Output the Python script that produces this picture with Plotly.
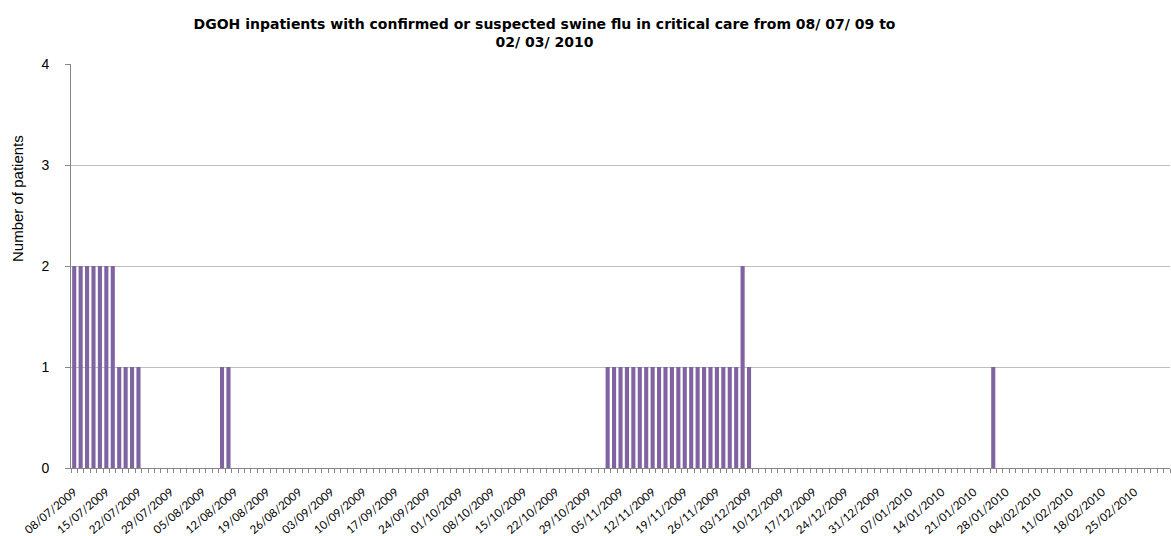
import pandas as pd
import plotly.graph_objects as go

# Categories: working days from 08/07/2009 (31/08/2009 bank holiday absent)
start_date = "2009-07-08"
missing_days = ["2009-08-31"]
n_days = 171
days = [d for d in pd.bdate_range(start_date, periods=n_days + 5) if d.strftime("%Y-%m-%d") not in missing_days][:n_days]
categories = [d.strftime("%d/%m/%Y") for d in days]

# Number of patients per day
patients = [
    2, 2, 2, 2, 2, 2, 2, 1, 1, 1,
    1, 0, 0, 0, 0, 0, 0, 0, 0, 0,
    0, 0, 0, 1, 1, 0, 0, 0, 0, 0,
    0, 0, 0, 0, 0, 0, 0, 0, 0, 0,
    0, 0, 0, 0, 0, 0, 0, 0, 0, 0,
    0, 0, 0, 0, 0, 0, 0, 0, 0, 0,
    0, 0, 0, 0, 0, 0, 0, 0, 0, 0,
    0, 0, 0, 0, 0, 0, 0, 0, 0, 0,
    0, 0, 0, 1, 1, 1, 1, 1, 1, 1,
    1, 1, 1, 1, 1, 1, 1, 1, 1, 1,
    1, 1, 1, 1, 2, 1, 0, 0, 0, 0,
    0, 0, 0, 0, 0, 0, 0, 0, 0, 0,
    0, 0, 0, 0, 0, 0, 0, 0, 0, 0,
    0, 0, 0, 0, 0, 0, 0, 0, 0, 0,
    0, 0, 0, 1, 0, 0, 0, 0, 0, 0,
    0, 0, 0, 0, 0, 0, 0, 0, 0, 0,
    0, 0, 0, 0, 0, 0, 0, 0, 0, 0,
    0,
]

tick_labels = [
    "08/07/2009", "15/07/2009", "22/07/2009", "29/07/2009", "05/08/2009",
    "12/08/2009", "19/08/2009", "26/08/2009", "03/09/2009", "10/09/2009",
    "17/09/2009", "24/09/2009", "01/10/2009", "08/10/2009", "15/10/2009",
    "22/10/2009", "29/10/2009", "05/11/2009", "12/11/2009", "19/11/2009",
    "26/11/2009", "03/12/2009", "10/12/2009", "17/12/2009", "24/12/2009",
    "31/12/2009", "07/01/2010", "14/01/2010", "21/01/2010", "28/01/2010",
    "04/02/2010", "11/02/2010", "18/02/2010", "25/02/2010",
]

y_ticks = [0, 1, 2, 3, 4]

ticktext = [c if c in tick_labels else "" for c in categories]

fig = go.Figure()
fig.add_trace(go.Bar(
    x=categories, y=patients,
    marker=dict(color="#8064A2", line=dict(width=0)),
    name="Patients",
))

fig.update_layout(
    width=1171, height=536,
    margin=dict(l=71, r=1, t=64, b=68),
    paper_bgcolor="white", plot_bgcolor="white",
    bargap=0.36,
    showlegend=False,
    title=dict(
        text="DGOH inpatients with confirmed or suspected swine flu in critical care from 08/ 07/ 09 to<br>02/ 03/ 2010",
        x=0.465, xanchor="center", yref="container", y=1 - 29 / 536, yanchor="middle",
        font=dict(family="DejaVu Sans", size=14, color="#000000", weight="bold"),
    ),
    font=dict(family="Liberation Sans", color="#000000"),
    annotations=[dict(
        text="Number of patients", textangle=-90,
        xref="paper", yref="paper",
        x=(18 - 71) / 1099, y=(468 - 199) / 404,
        xanchor="center", yanchor="middle", showarrow=False,
        font=dict(family="Liberation Sans", size=15, color="#000000"),
    )],
)

fig.update_xaxes(
    type="category",
    categoryorder="array", categoryarray=categories,
    tickmode="array", tickvals=categories, ticktext=ticktext,
    tickson="boundaries",
    ticks="outside", ticklen=4, tickcolor="#868686", tickwidth=1,
    tickangle=-40,
    ticklabelstandoff=12,
    tickfont=dict(family="Lato", size=11.5, color="#000000"),
    showline=True, linecolor="#868686", linewidth=1,
    showgrid=False, zeroline=False,
)

fig.update_yaxes(
    range=[0, 4],
    tickmode="array", tickvals=y_ticks,
    ticks="outside", ticklen=5, tickcolor="#868686",
    tickfont=dict(family="Liberation Sans", size=14, color="#000000"),
    ticklabelstandoff=13,
    showline=True, linecolor="#868686", linewidth=1,
    showgrid=True, gridcolor="#BEBEBE", gridwidth=1,
    zeroline=False,
)

fig.write_html("out.html")
